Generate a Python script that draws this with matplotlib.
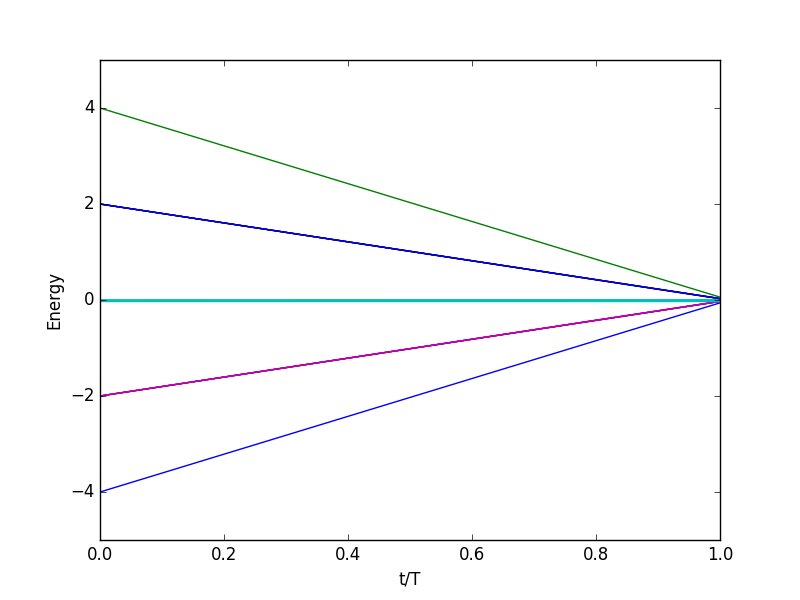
import numpy as np
import matplotlib
matplotlib.use('Agg')
import matplotlib.pyplot as plt

plt.style.use('classic')

# energy levels at t/T = 0 and t/T = 1
start_energy = [-4, -2, -2, -2, -2, 0, 0, 0, 0, -0.012, 0.0, 2, 2, 2, 2, 4]
end_energy = [-0.06, -0.03, -0.03, -0.025, -0.03, 0.0, 0.0, 0.005, 0.0, -0.012, 0.0,
              0.03, 0.025, 0.03, 0.03, 0.06]
line_colors = ['b', 'r', 'k', 'm', 'm', 'r', 'c', 'c', 'c', 'c', 'c',
               'k', 'b', 'k', 'b', 'g']

t = np.array([0.0, 1.0])

fig = plt.figure(figsize=(8, 6), dpi=100)
ax = fig.add_subplot(111)
for e0, e1, c in zip(start_energy, end_energy, line_colors):
    ax.plot(t, [e0, e1], color=c)

ax.set_xlim(0, 1)
ax.set_ylim(-5, 5)
ax.set_xlabel('t/T')
ax.set_ylabel('Energy')

fig.savefig('out.png', dpi=100)
